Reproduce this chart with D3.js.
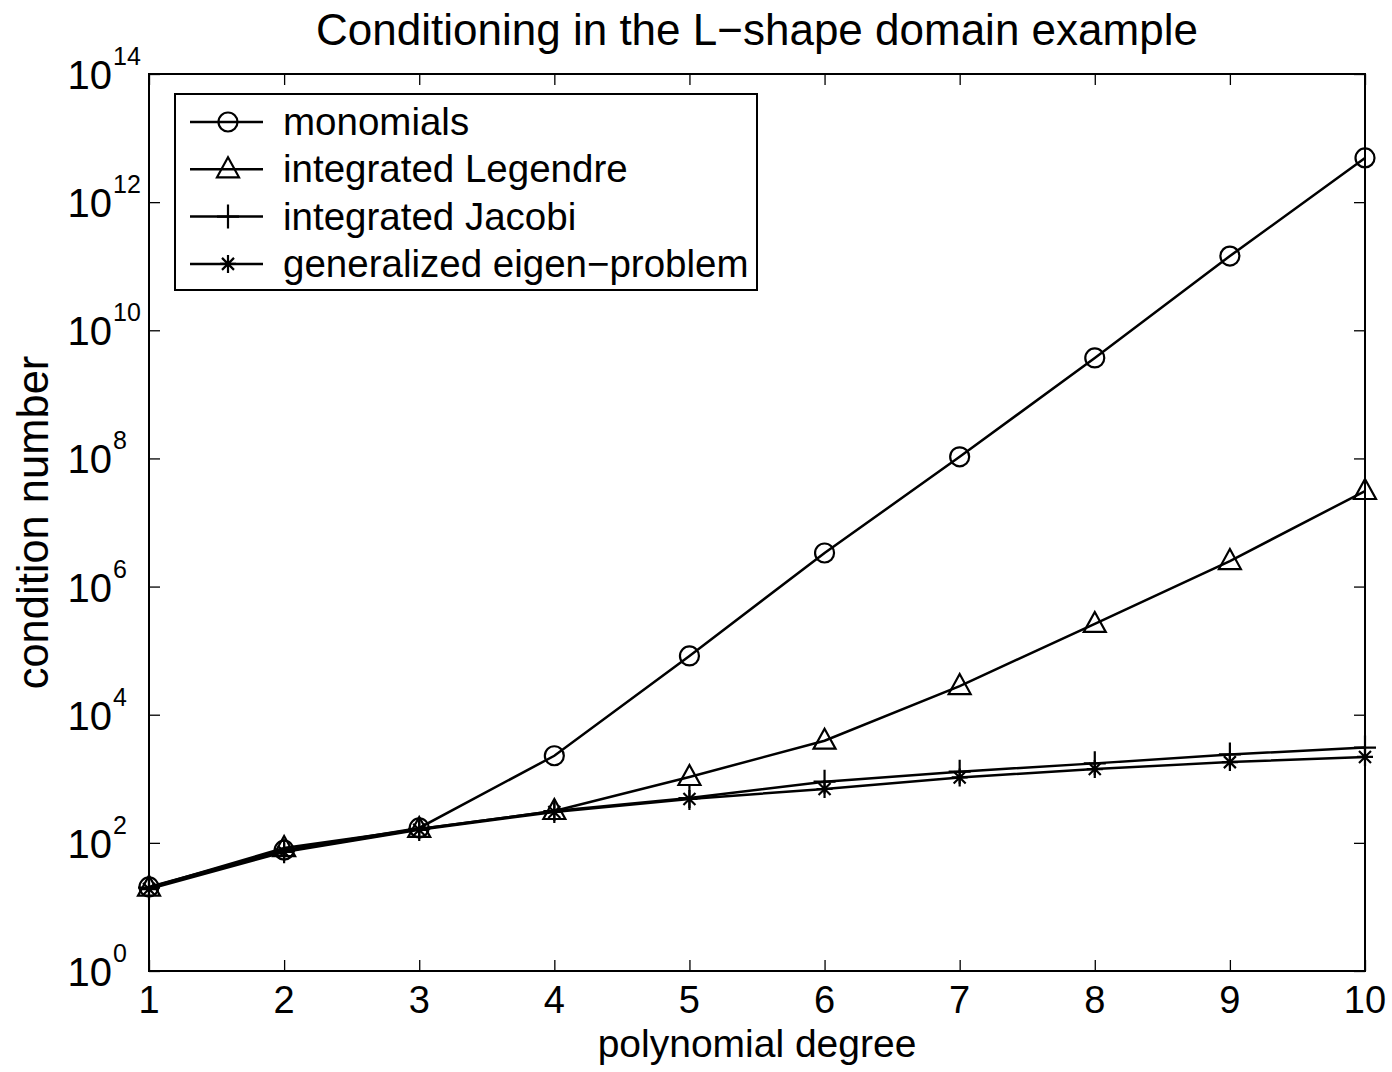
<!DOCTYPE html>
<html>
<head>
<meta charset="utf-8">
<script src="https://cdn.jsdelivr.net/npm/d3@7"></script>
<style>
  body { margin: 0; background: #fff; }
  text { font-family: "Liberation Sans", Arial, sans-serif; fill: #000; }
</style>
</head>
<body>
<script>
// polynomial degree
var degrees = [1, 2, 3, 4, 5, 6, 7, 8, 9, 10];

// condition numbers
var monomials = [20.5, 77, 171, 2290, 82600, 3.34e6, 1.06e8, 3.7e9, 1.44e11, 4.9e12];
var legendre  = [20, 83, 165, 314, 1066, 3930, 28000, 261000, 2.5e6, 3.1e7];
var jacobi    = [20, 74, 165, 314, 500, 900, 1290, 1740, 2400, 3070];
var eigen     = [19, 72, 160, 303, 484, 693, 1050, 1420, 1820, 2190];

var seriesNames = ['monomials', 'integrated Legendre', 'integrated Jacobi', 'generalized eigen\u2212problem'];
var seriesMarkers = ['circle', 'triangle', 'plus', 'star'];
var seriesValues = [monomials, legendre, jacobi, eigen];

var yTickExps = [0, 2, 4, 6, 8, 10, 12, 14];

var W = 1392, H = 1072;
var mLeft = 149, mRight = 1365, mTop = 74, mBottom = 971;

var svg = d3.select("body").append("svg")
  .attr("width", W)
  .attr("height", H);

var x = d3.scaleLinear().domain([1, 10]).range([mLeft, mRight]);
var y = d3.scaleLog().domain([1, 1e14]).range([mBottom, mTop]);

var tickVals = yTickExps.map(function(e) { return Math.pow(10, e); });

// inner ticks on all four sides
svg.append("g").attr("transform", "translate(0," + mBottom + ")")
  .call(d3.axisBottom(x).tickValues(degrees).tickSize(-11).tickFormat(""));
svg.append("g").attr("transform", "translate(0," + mTop + ")")
  .call(d3.axisTop(x).tickValues(degrees).tickSize(-11).tickFormat(""));
svg.append("g").attr("transform", "translate(" + mLeft + ",0)")
  .call(d3.axisLeft(y).tickValues(tickVals).tickSize(-11).tickFormat(""));
svg.append("g").attr("transform", "translate(" + mRight + ",0)")
  .call(d3.axisRight(y).tickValues(tickVals).tickSize(-11).tickFormat(""));

svg.selectAll(".domain").remove();
svg.selectAll(".tick line").attr("stroke", "#000").attr("stroke-width", 1.3);

svg.append("rect")
  .attr("x", mLeft).attr("y", mTop)
  .attr("width", mRight - mLeft).attr("height", mBottom - mTop)
  .attr("fill", "none").attr("stroke", "#000").attr("stroke-width", 2);

// tick labels
svg.selectAll(".xlab").data(degrees).enter().append("text")
  .attr("x", function(d) { return x(d); })
  .attr("y", 1013)
  .attr("text-anchor", "middle")
  .style("font-size", "38px")
  .text(function(d) { return d; });

// "10" right-aligned, exponent sticking out to the right
svg.selectAll(".ybase").data(yTickExps).enter().append("text")
  .attr("x", 112)
  .attr("y", function(d) { return y(Math.pow(10, d)) + 15; })
  .attr("text-anchor", "end")
  .style("font-size", "40px")
  .text("10");
svg.selectAll(".yexp").data(yTickExps).enter().append("text")
  .attr("x", 113)
  .attr("y", function(d) { return y(Math.pow(10, d)) - 9; })
  .style("font-size", "25px")
  .text(function(d) { return d; });

// titles
svg.append("text")
  .attr("x", (mLeft + mRight) / 2).attr("y", 45)
  .attr("text-anchor", "middle")
  .style("font-size", "44px")
  .text("Conditioning in the L\u2212shape domain example");

svg.append("text")
  .attr("x", (mLeft + mRight) / 2).attr("y", 1057)
  .attr("text-anchor", "middle")
  .style("font-size", "39px")
  .text("polynomial degree");

svg.append("text")
  .attr("transform", "translate(48," + ((mTop + mBottom) / 2) + ") rotate(-90)")
  .attr("text-anchor", "middle")
  .style("font-size", "43.5px")
  .text("condition number");

// marker shapes
function marker(g, kind) {
  if (kind === 'circle') {
    g.append("circle").attr("r", 9.5);
  } else if (kind === 'triangle') {
    g.append("path").attr("d", "M0,-12L11,8L-11,8Z");
  } else if (kind === 'plus') {
    g.append("path").attr("d", "M-11,0L11,0M0,-12L0,12");
  } else {
    g.append("path").attr("d", "M-8,0L8,0M0,-9L0,9M-6,-6L6,6M-6,6L6,-6");
  }
  g.attr("fill", "none").attr("stroke", "#000").attr("stroke-width", 2.2);
}

var line = d3.line()
  .x(function(d, i) { return x(degrees[i]); })
  .y(function(d) { return y(d); });

seriesValues.forEach(function(vals, k) {
  svg.append("path")
    .attr("d", line(vals))
    .attr("fill", "none")
    .attr("stroke", "#000")
    .attr("stroke-width", 2.5);
  vals.forEach(function(v, i) {
    var g = svg.append("g")
      .attr("transform", "translate(" + x(degrees[i]) + "," + y(v) + ")");
    marker(g, seriesMarkers[k]);
  });
});

// legend
var lg = svg.append("g");
lg.append("rect")
  .attr("x", 175).attr("y", 94)
  .attr("width", 582).attr("height", 196)
  .attr("fill", "#fff").attr("stroke", "#000").attr("stroke-width", 2);

seriesNames.forEach(function(name, k) {
  var cy = 122 + k * 47.3;
  lg.append("line")
    .attr("x1", 190).attr("x2", 263)
    .attr("y1", cy).attr("y2", cy)
    .attr("stroke", "#000").attr("stroke-width", 2.5);
  var g = lg.append("g").attr("transform", "translate(228," + cy + ")");
  marker(g, seriesMarkers[k]);
  lg.append("text")
    .attr("x", 283).attr("y", cy + 13)
    .style("font-size", "38.5px")
    .text(name);
});
</script>
</body>
</html>
